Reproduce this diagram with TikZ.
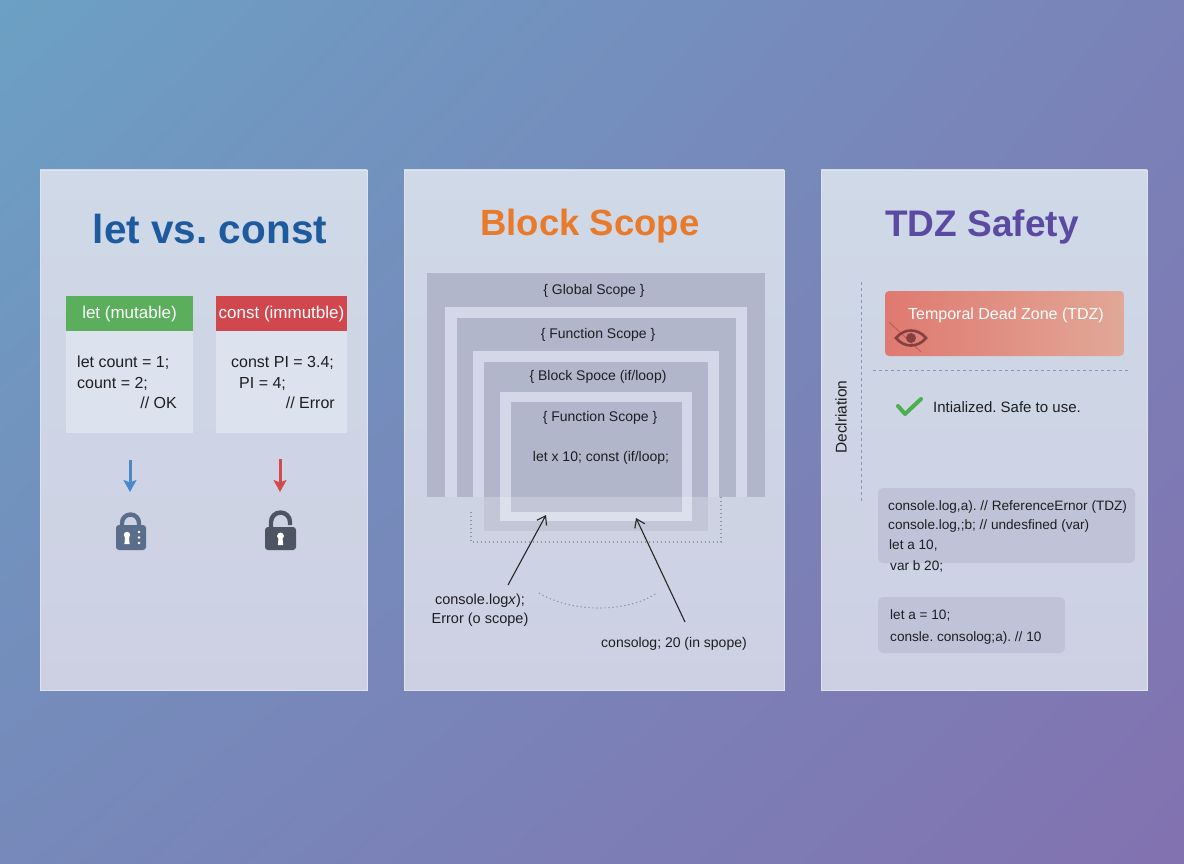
\documentclass[tikz,border=0pt]{standalone}
\usepackage{fontspec}
\setmainfont{Liberation Sans}
\usetikzlibrary{arrows.meta,shadings}
\frenchspacing
\definecolor{bgTL}{HTML}{6CA0C4}
\definecolor{bgTR}{HTML}{7A82B8}
\definecolor{bgBL}{HTML}{7689BA}
\definecolor{bgBR}{HTML}{8272B0}
\definecolor{panTop}{HTML}{CFD9E7}
\definecolor{panBot}{HTML}{CDD0E3}
\definecolor{panEdge}{HTML}{DDE3EF}
\definecolor{titleBlue}{HTML}{1E5A9E}
\definecolor{titleOrange}{HTML}{E87A2A}
\definecolor{titlePurple}{HTML}{5A4AA2}
\definecolor{hdrGreen}{HTML}{5AAE5C}
\definecolor{hdrRed}{HTML}{D0474E}
\definecolor{codeBody}{HTML}{DDE3EE}
\definecolor{arrBlue}{HTML}{4A88CA}
\definecolor{arrRed}{HTML}{D24A4A}
\definecolor{lockA}{HTML}{5A6D8A}
\definecolor{lockB}{HTML}{4D5563}
\definecolor{scopeDark}{HTML}{B1B6CB}
\definecolor{scopeLight}{HTML}{D3D7E7}
\definecolor{dotGray}{HTML}{8F96A8}
\definecolor{dashPurple}{HTML}{8C90C4}
\definecolor{tdzL}{HTML}{E07970}
\definecolor{tdzR}{HTML}{E1A897}
\definecolor{eyeRed}{HTML}{844040}
\definecolor{checkGreen}{HTML}{4CAF50}
\definecolor{codeGray}{HTML}{C0C3D8}
\definecolor{txt}{HTML}{1E1E22}
\tikzset{
  panel/.style={draw=panEdge, line width=0.8pt, top color=panTop, bottom color=panBot},
  ptitle/.style={font=\fontsize{38}{44}\selectfont\bfseries, inner sep=0pt},
  hdr/.style={text=white, font=\fontsize{17}{20}\selectfont, inner sep=0pt},
  code/.style={text=txt, font=\fontsize{16}{19}\selectfont, inner sep=0pt},
  slabel/.style={text=txt, font=\fontsize{14}{17}\selectfont, inner sep=0pt},
  tcode/.style={text=txt, font=\fontsize{13.6}{16}\selectfont, inner sep=0pt},
  pointer/.style={draw=black!85, line width=1.1pt, -{Straight Barb[length=8pt,width=11pt,line width=1.1pt]}},
  downarrow/.style={line width=3pt, -{Stealth[length=12pt,width=13pt,inset=2.5pt]}},
}
\begin{document}
\begin{tikzpicture}[x=1pt,y=-1pt]
\useasboundingbox (0,0) rectangle (1184,864);
\shade[upper left=bgTL, upper right=bgTR, lower left=bgBL, lower right=bgBR] (0,0) rectangle (1184,864);

% ---------- panels ----------
\path[panel] (40,170) rectangle (367,690);
\path[panel] (404,170) rectangle (784,690);
\path[panel] (821,170) rectangle (1147,690);

% ---------- panel 1 ----------
\node[ptitle, text=titleBlue, font=\fontsize{40.5}{46}\selectfont\bfseries] (t1) at (210,229) {let vs.\ const};

\fill[codeBody] (66,331) rectangle (193,433);
\fill[hdrGreen] (66,296) rectangle (193,331);
\node[hdr] (hlet) at (129.5,314) {let (mutable)};
\node[code, anchor=base west] (c1) at (77,367) {let count = 1;};
\node[code, anchor=base west] (c2) at (77,388) {count = 2;};
\node[code, anchor=base east] (c3) at (177,408) {// OK};

\fill[codeBody] (216,331) rectangle (347,433);
\fill[hdrRed] (216,296) rectangle (347,331);
\node[hdr] (hconst) at (281.5,314) {const (immutble)};
\node[code, anchor=base west] (d1) at (231,367) {const PI = 3.4;};
\node[code, anchor=base west] (d2) at (239,388) {PI = 4;};
\node[code, anchor=base east] (d3) at (335,408) {// Error};

\coordinate (a1s) at (130,460);
\coordinate (a1e) at (130,492);
\coordinate (a2s) at (280,459);
\coordinate (a2e) at (280,492);
\draw[downarrow, draw=arrBlue, fill=arrBlue] (a1s) -- (a1e);
\draw[downarrow, draw=arrRed, fill=arrRed] (a2s) -- (a2e);

% locked lock
\draw[lockA, line width=4.4pt] (122,528) -- (122,523) arc[start angle=180, end angle=360, radius=8.5] -- (139,528);
\fill[lockA, rounded corners=3pt] (116,525) rectangle (146,550);
\fill[white] (127,535) circle[radius=3.2];
\fill[white] (125.2,536) -- (128.8,536) -- (129.6,544) -- (124.4,544) -- cycle;
\fill[white] (139,532) circle[radius=1.4] (139,537.5) circle[radius=1.4] (139,543) circle[radius=1.4];

% unlocked lock
\draw[lockB, line width=4.4pt] (271,528) -- (271,522) arc[start angle=180, end angle=360, radius=9.5] -- (290,525);
\fill[lockB, rounded corners=3pt] (265,527) rectangle (296,550);
\fill[white] (280.5,536) circle[radius=3.4];
\fill[white] (278.6,537) -- (282.4,537) -- (283.2,545) -- (277.8,545) -- cycle;

% ---------- panel 2 ----------
\node[ptitle, text=titleOrange, font=\fontsize{36.5}{42}\selectfont\bfseries] (t2) at (590,226) {Block Scope};

\fill[scopeDark] (427,273) rectangle (765,497);
\fill[scopeLight] (445,307) rectangle (747,497);
\fill[scopeDark] (457,318) rectangle (736,497);
\fill[scopeLight] (473,351) rectangle (719,497);
\fill[scopeDark] (484,362) rectangle (708,531);
\fill[scopeLight] (500,392) rectangle (692,521);
\fill[scopeDark] (511,402) rectangle (682,512);
\fill[white, opacity=0.22] (484,497) rectangle (708,531);

\draw[dotGray, line width=1.1pt, dash pattern=on 1.3pt off 2.7pt] (471,512) -- (471,542) -- (721,542) -- (721,497);

\node[slabel] (gs) at (594,291) {\{ Global Scope \}};
\node[slabel] (fs) at (598,335) {\{ Function Scope \}};
\node[slabel] (bs) at (598,377) {\{ Block Spoce (if/loop)};
\node[slabel] (fs2) at (600,418) {\{ Function Scope \}};
\node[slabel] (lx) at (601,458) {let x 10; const (if/loop;};

\node[text=txt, font=\fontsize{14.5}{19}\selectfont, inner sep=0pt, align=center] (err) at (480,610) {console.log\textit{x});\\Error (o scope)};
\node[slabel] (ins) at (674,644) {consolog; 20 (in spope)};

\coordinate (p1s) at (508,585);
\coordinate (p1e) at (546,515);
\coordinate (p2s) at (685,622);
\coordinate (p2e) at (636,518);
\draw[pointer] (p1s) -- (p1e);
\draw[pointer] (p2s) -- (p2e);

\coordinate (arcA) at (539,593);
\coordinate (arcB) at (657,593);
\draw[dotGray, line width=1.1pt, dash pattern=on 1.3pt off 2.7pt] (arcA) .. controls (570,612) and (625,614) .. (arcB);

% ---------- panel 3 ----------
\node[ptitle, text=titlePurple, font=\fontsize{37}{42}\selectfont\bfseries] (t3) at (982,227) {TDZ Safety};

\coordinate (vtop) at (861,282);
\coordinate (vbot) at (861,501);
\draw[dashPurple, dash pattern=on 3pt off 3pt, line width=0.9pt] (vtop) -- (vbot);
\node[text=txt, font=\fontsize{15.5}{18}\selectfont, inner sep=0pt, rotate=90] (decl) at (841,417) {Declriation};

\shade[left color=tdzL, right color=tdzR, rounded corners=4pt] (885,291) rectangle (1124,356);
\node[text=white, font=\fontsize{16}{19}\selectfont, inner sep=0pt] (tdz) at (1006,315) {Temporal Dead Zone (TDZ)};
% eye icon
\draw[eyeRed, line width=0.8pt, opacity=0.5] (889,322) -- (921,352);
\draw[eyeRed, line width=2.6pt] (896,338) .. controls (904,328) and (918,328) .. (926,338) .. controls (918,348) and (904,348) .. (896,338) -- cycle;
\fill[eyeRed] (911,338) circle[radius=5];

\coordinate (hl) at (873,370);
\coordinate (hr) at (1128,370);
\draw[dashPurple, dash pattern=on 3pt off 3pt, line width=0.9pt] (hl) -- (hr);

\draw[checkGreen, line width=4pt, line cap=round, line join=round] (898,406) -- (905,414) -- (921,399);
\node[text=txt, font=\fontsize{15}{18}\selectfont, inner sep=0pt, anchor=west] (safe) at (933,407) {Intialized. Safe to use.};

\fill[codeGray, rounded corners=5pt] (878,488) rectangle (1135,563);
\node[tcode, anchor=base west] (e1) at (888,510) {console.log,a). // ReferenceErnor (TDZ)};
\node[tcode, anchor=base west] (e2) at (888,529) {console.log,;b; // undesfined (var)};
\node[tcode, anchor=base west] (e3) at (889,549) {let a 10,};
\node[tcode, anchor=base west] (e4) at (890,570) {var b 20;};

\fill[codeGray, rounded corners=5pt] (878,597) rectangle (1065,653);
\node[tcode, anchor=base west] (f1) at (890,619) {let a = 10;};
\node[tcode, anchor=base west] (f2) at (890,641) {consle. consolog;a). // 10};
\end{tikzpicture}
\end{document}
